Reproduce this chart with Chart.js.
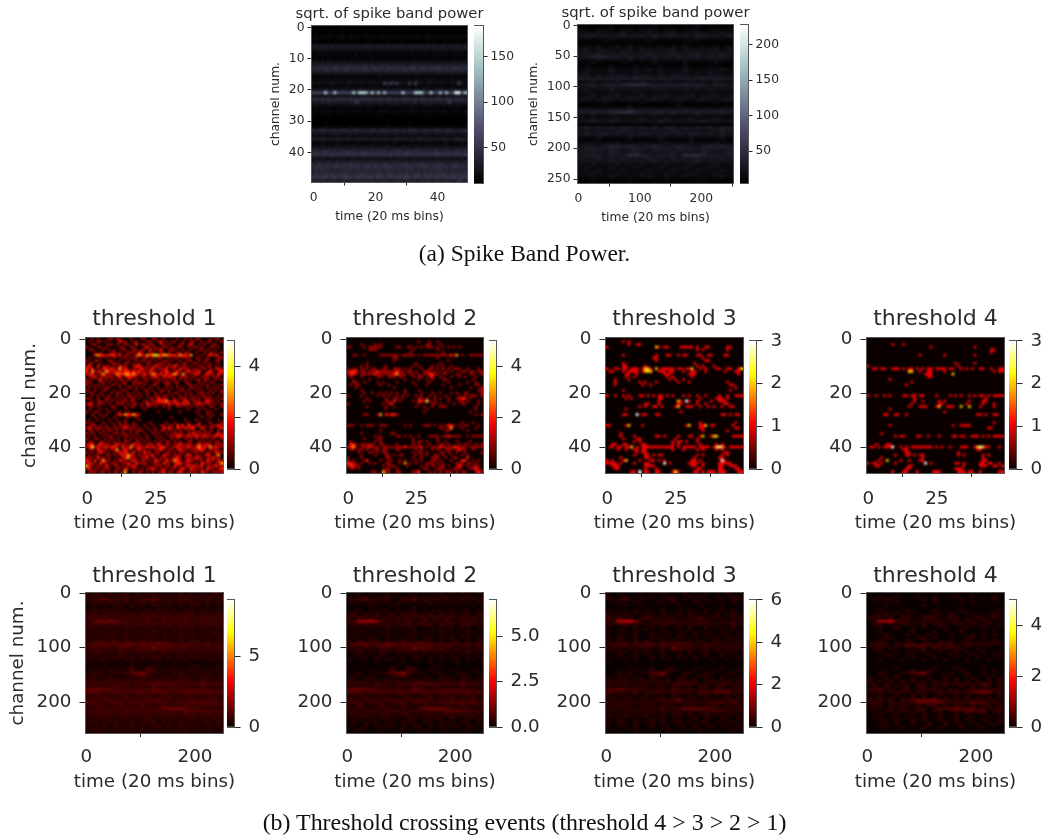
<!DOCTYPE html>
<html>
<head>
<meta charset="utf-8">
<script src="https://cdn.jsdelivr.net/npm/chart.js@4"></script>
<style>
  html, body { margin: 0; background: #fff; }
  #page { position: relative; width: 1042px; height: 837px; overflow: hidden; }
  canvas { position: absolute; filter: blur(0.45px); }
  .caption { position: absolute; left: 6px; width: 1037px; text-align: center; font: 23.5px "Liberation Serif", serif; color: #111; filter: blur(0.3px); white-space: nowrap; }
</style>
</head>
<body>
<div id="page">
  <div class="caption" style="top:240px">(a) Spike Band Power.</div>
  <div class="caption" style="top:809px; font-size:23.9px">(b) Threshold crossing events (threshold 4 &gt; 3 &gt; 2 &gt; 1)</div>
</div>
<script>
// values, one string per row, one char per cell (spaces are only for counting)

// sqrt of spike band power, 50 channels: base36 char x 5
const bandPower50 = [
 "3233323233 3232333233 2332323323 3323233232 3323232332",
 "3333233323 3323332333 3233233332 3233323333 2333233323",
 "2322323223 2232322322 2232232222 3222322322 2322232232",
 "3434344344 4344343443 4344434344 3443434443 4343443434",
 "3333232333 3233323233 3323332323 3233332333 3233323332",
 "2323232322 3232322323 2322323223 2323222323 2232322323",
 "6767767676 7767676776 6776767677 6776776767 6776767767",
 "5565656556 5656565565 5656556565 5565656556 6565565656",
 "3434343433 4343433434 3434343343 4343343434 3434334343",
 "3334343343 3433434343 3343433434 3343434334 3434334343",
 "3323233323 3233323233 3323233233 3232333233 3323233323",
 "4545454454 5454544545 4545445454 5445454544 5454454545",
 "6667676766 7676676767 6676766767 6676767676 6767676676",
 "8998a89a98 9a89989a89 a8989a9899 89a98a9899 a98989a989",
 "7887987887 8978878987 8878978878 9788787887 8978887887",
 "5455454545 5454554545 4554545455 4545545454 5545454545",
 "3333343333 3433334333 3343333333 4333333433 3333343333",
 "4444544444 4454444445 4444454444 4445444454 4444444544",
 "5455455545 4554545455 454b8b8b55 4b5b554554 5454455c54",
 "3343334333 3433343333 4333433343 3334333433 3433343334",
 "5555656555 6556565565 5565556565 5655656555 6565565655",
 "ccccsccscc cccsetts cs cqcqccccc sccctts ccscc qcqcczzcsc q",
 "4544454445 4544544454 4544454544 5445445444 5444544454",
 "898a8989a8 98a9899a98 9898a98989 a9898a9898 a98a989898",
 "6767787767 7677c76677 6776767767 7678676777 6767c76776",
 "4544454454 4544454454 4454454544 4454445454 4454454544",
 "3333333233 3323333333 2333333233 3333323333 3233333332",
 "4434444344 4344443444 3444434444 3444344443 4444344434",
 "3323333233 3332333323 3333233332 3333233333 2333323333",
 "2222232222 2222322222 2322222223 2222222322 2222222222",
 "2222222222 3222222222 2222322222 2222222222 3222222232",
 "2222322222 2222222322 2222222222 2322222222 2232222222",
 "3333433333 3343333334 3333433333 3433333343 3333433333",
 "8789878978 9878987879 8789788978 7898789878 9878978789",
 "5656556565 5565656565 5655656556 5656556565 6556565565",
 "4545444545 4544545445 4454544545 4454545444 5454454545",
 "6667667676 6766676766 7667666766 7666776676 6677668776",
 "3334333343 3333433333 4333334333 3343333433 3334333343",
 "4445444454 4445444454 4444544445 4444544454 4445444454",
 "6766776767 7667677667 6767667776 7667767667 7667667767",
 "8989a88989 8a98989a89 8989898a98 9a89898989 a89898a989",
 "9a99a9b9a9 9a9a99b9a9 a99a9b99a9 b9a99a9a99 b9a9a99a9a",
 "4545445454 5445454544 5454454545 4454545445 4545445454",
 "6767676676 7676767667 6767667676 7667676766 7676676767",
 "88a88988a8 98a98989a8 988a988989 a8989a9889 8a9889a898",
 "8a98998a89 9898a98998 a9899a8989 8a9898a989 a98989a898",
 "7879787878 7987887978 7887978787 8797878787 8978787878",
 "8a8898a898 a88989a889 8a989a8898 a889a898a8 98a8898a89",
 "a9bac9ab9a bca9ab9aba 9ca9ab9aba ca9ba9ab9a b9ab9ca9ba",
 "7878777877 8777878778 7778777877 7877787877 8778777a87"
];

// threshold crossings, 50 channels: count per cell
const crossT1 = [
 "0010100011 0110001000 1100110010 0001001010 1100010110",
 "0100110100 0021100110 0011001201 0110010011 0010110001",
 "0011000011 0100110020 1101100110 1000110120 0101001100",
 "1000110100 0011001100 0120110011 0101100101 1010011010",
 "0110001010 1001100110 1102011200 1110010010 0110100100",
 "0001010001 1010011102 1001100110 1001101100 1001011001",
 "0002322122 2120110023 2132343233 2221322130 0010121210",
 "0100010100 1001101110 0110101100 1011011100 1100100011",
 "1001100011 0010010010 1101010011 0100100110 0101100110",
 "0110010001 1100110101 0011001110 1001011001 1001010010",
 "1200201110 1021100122 1010121101 1121011010 0110110100",
 "2120102212 1131210111 2111201112 0110211101 1011010121",
 "2031120321 2121221212 1102110112 1012101211 1200121012",
 "1220113111 1322332321 1211321212 1232031011 2101211021",
 "0112011111 0120122110 1101121021 2110111101 0011101110",
 "1010120101 1011011010 0110101101 0110101010 1101100101",
 "1100011010 0101100111 1010011011 1011001100 0101011000",
 "1010101001 1010100101 0100110001 1001000110 1010100101",
 "0101010110 0010011010 1001001001 0101010011 0100101010",
 "1001001100 1001100010 0110100110 1000110100 1010010101",
 "0110010001 0110010101 0010010100 1011001010 0110101001",
 "0010101010 0101011010 1010011011 0100101010 1011010010",
 "1100100110 1010101101 0001102111 0010111011 0101110101",
 "0010110101 0101101100 0110112223 1121012101 1101211010",
 "1210111010 0111010110 1021111111 2112121201 1211110101",
 "0110100001 1000101100 1011010010 1001101010 1010011001",
 "0100010100 1000100000 0100000000 1000000100 0101000100",
 "1001100010 0010010000 0000001000 0000100000 1000110000",
 "0010010100 0121322321 0000000000 0000000000 0100101001",
 "0001001000 1000010010 0000000000 0100000000 0010010000",
 "0100100010 0100100001 0000000000 0000001000 1000100010",
 "1010001001 0010100100 0001000001 0010000100 0100010001",
 "0111010100 1011110110 0100100110 1102120211 1201011121",
 "1201110110 1101211101 0010010021 2102112122 0021011012",
 "0110101011 0101001011 1001010110 1010100101 0101010010",
 "1010010100 1101101010 0100101001 0111110112 1111110121",
 "0101001011 0010110101 0010010100 1112211211 2112111212",
 "1001100101 0100101010 1010001010 0101001010 1010101001",
 "0110011010 1010110011 0101010101 1010100110 0101010110",
 "1220121110 1211101211 1011102101 1011211110 1211210111",
 "1241211212 2102113112 1121211221 0112111211 2312131211",
 "0110211101 1301211012 1101011210 1101211011 1221011110",
 "1010121010 1121210201 0211011001 1010110101 1010110211",
 "0101100110 1012132101 1111201021 1011101210 1101210130",
 "1110211010 0101231110 1120110111 0112101111 2110112110",
 "2102013110 1021101210 1101021102 1132101211 0110211021",
 "1211021101 1101121021 1110111021 1012211110 1021110113",
 "3110110210 1101011210 0101011101 1021101212 1120111211",
 "1201101110 0110210110 1011210111 0110121021 1110211012",
 "0111011010 1101300101 1010101120 1101210111 1021101111"
];

const crossT2 = [
 "",
 "0000000000 0000000000 0000001000 1001000000",
 "0000010000 1010000000 0000000001 1000100000",
 "1100001011 1110000011 0011010101 1101010101 0100000000",
 "0000000011 1000000000 0000100000 0001000000",
 "0000000000 0000000000 0001000000 0000010000",
 "0011001000 0011111110 1111101011 1111111121 3010011111",
 "0000000000 0000000110 0000000000 0001000000",
 "0000000000 0000000100 0000000000 0000000100",
 "0000000100 0000000000 0000010000 0000100000",
 "0000010100 0000100000 0000101000 0101010010",
 "1011010101 1001100111 0101000100 1101010101 1100100010",
 "1222011011 1211111121 1011010011 1010101010 0011011011",
 "1221011111 2111111231 1101101011 2211011000 1100011001",
 "0100010000 0110011101 1000101100 1200100010 0101000100",
 "0010000010 0000000000 0100001001 0100011000 0000001000",
 "0011001000 0101000010 0000100000 1000000100 0000100100",
 "0101100000 0010010000 0000010001 0000010000 0100000110",
 "0001000000 0000000100 0000000000 0000000010 0000010001",
 "0000010000 0000000000 0100001000 0000000000 0000000011",
 "0000001001 0010101010 0100000100 0100100010 1001100001",
 "1000010000 0101010010 1010010100 1010001000 0101011101",
 "0000000100 0000100110 1000001101 0010100100 1122010000",
 "0000001010 0000110201 0000102214 1010000100 0110100010",
 "1000000000 0001012000 0000001000 0110100001 0011000010",
 "0000000100 0000100100 0000010010 0100111000 0000000100",
 "0000000000 0000100000 0000000001 0000000000 0000000100",
 "0000000000 0000000000 0000000010 0000000000 0000010000",
 "0000001100 0130212210 0000000000 0000000000 0000000101",
 "",
 "",
 "0000000000 0000000000 0000000000 0000000000 0010001000",
 "1110010111 0011100000 0101000011 1010101221 0101100010",
 "0000000000 0000000000 0000000000 0000110130 0010000100",
 "0000000000 0010000000 0000000000 0000001100 0000100000",
 "0000010000 0000001100",
 "0000000000 1010000011 0101001000 1111011211 1100101111",
 "0000001000 0110000000 0000100000 0001000000",
 "0100000000 1010000000 0000101101 0001001000 1000010000",
 "0221011111 0011000010 0000101000 1000110100 0101100101",
 "1231011121 1101111111 1211111201 0111211112 2111011111",
 "0110110100 1101100011 0000010100 0101001110 1211001000",
 "0000100011 0101100000 0000101101 0000110100 1001000001",
 "0000010000 1000110101 1000010101 0011010010 0010100000",
 "1000010000 0000110000 0000100100 0111001001 1000200000",
 "1010001200 0010011001 0100010100 0110100010 0022001010",
 "2211010010 1000110001 0301010001 1101010000 1110110100",
 "1221100000 0001011100 0010000101 0110110100 1210101110",
 "0110100000 0000110010 0000000011 0001110001 1100011210",
 "0000000001 1003110011 0000112000 1010101110 1011000121"
];

const crossT3 = [
 "",
 "0000001010",
 "0000000010 0110",
 "1000000000 0000000021 0110000111 1101001100 0000110000",
 "0000000000 0000000000 0000000000 0001010000 00001",
 "",
 "0000001000 0000000010 0011001011 0001100110 0001100000",
 "0000000000 0000000110 0000000000 0000010000",
 "0000000000 0000000010 0000000000 0000001100",
 "0000001000 0000000000 0000000000 0010",
 "0000001100 0000100000 0000000000 0001010001",
 "1001101101 1101221020 1111101101 1200101000 1100110012",
 "0110001011 1101222001 1101100010 0110001000 0001000110",
 "0000000110 0100000000 0111000000 1110000000 0000000010",
 "0000000100 1000000000 0010100000 0100000000",
 "0001000010 0000000000 0001010010",
 "0001000000 0010100010 0000001000 1000000000 0000100000",
 "0001000000 0001001000 0000000000 0000000000 0000011",
 "0000000000 0000000000 0000000000 0000000000 0000000100",
 "0000001000 0000000000 0000000000 0000000000 00000100",
 "",
 "1001001010 0011010101 1010100010 1001001000 0100100111",
 "0000000101 0000000001 1000000000 0000100000 1110100000",
 "0000000000 0000000001 0000002103 1001000010 0111000000",
 "0000000000 0000110001 0000001100 0001001000 0001100000",
 "0000000000 0010100110 1000012001 1100100101 0010011000",
 "0000000100",
 "0000000000 0000000000 0000000100",
 "0000001100 0301100011 0000000000 0000000000 0011010110",
 "",
 "",
 "0000000000 0000000000 0000000000 0000100000 0000000100",
 "1100000120 0001000000 0000000001 2000112011 0000001000",
 "0000000000 0000000000 0000000000 0000110000 0000000110",
 "0000000000 0000000000 0000000000 0000010000 0000100",
 "0000010000",
 "0000010000 1000000011 0100001000 1100120012 2000001111",
 "0000001000 0110000000 0000010000 0001",
 "0000000000 1010000000 0000101101 0001",
 "0011001100 0001100000 0000101000 0000100000 1010",
 "0110110112 0101111111 1111101011 1110111101 2321011111",
 "0000100100 1101100000 0000100010 0001010000 1010000000",
 "0000000000 0101100000 0000000000 0000000000 0001100000",
 "0000000000 1000110101 1000000000 0001010000 0010100000",
 "0000010000 0000110000 0000000000 0010000000 0110000000",
 "1010001200 0010001101 0100000000 0110100000 0031000000",
 "1111010000 1000110000 0301000000 1111010000 0111110000",
 "0011100000 0000111100 0000000000 0110010000 0110011100",
 "0001100000 0000100010 0000000000 0001100000 0110000110",
 "0000000001 1030110011 0000121000 0011010111 0111000011"
];

const crossT4 = [
 "",
 "",
 "0000000001 0001",
 "0000000000 0000000000 0001000000 0000000001",
 "0000000000 0000000000 0000000000 0000000000 0000011",
 "0000000000 0000000000 0000000000 0000000000 000001",
 "0000000000 0000000001 0000000010 0000000001",
 "",
 "",
 "0000000000 0000000000 0000000000 0010000001",
 "1000000000 0000000000 0000000000 0001",
 "0011011001 1101011010 1011011110 1100101010 0110010011",
 "0000000000 0000022001 0011000010 0000000000 0000001011",
 "0000000000 0000000000 0111000000 0200000000",
 "0000000000 0000000000 0011",
 "0000000010",
 "0000000000 0000001",
 "0000000000 00001",
 "",
 "",
 "",
 "1001001010 0001101101 1000010000 1010100101 0110101111",
 "0000000000 0000000100 0000000000 0000000000 0001",
 "0000000000 0000000100 1000001010 0000000100 0011",
 "0000000000 0000001000 0000001100 0000001000 0010001",
 "0000000000 0000010001 1100012001 1100200200 0100001",
 "0000000010",
 "0000000000 0000000000 0000000010",
 "0000001100 1100100000 0000000000 0000000000 1101001100",
 "",
 "",
 "0000000000 0000000000 0000000000 0000000000 0000001",
 "0000000010 0000000000 0000000000 0100111100",
 "0000000000 0000000000 0000000000 0000000000 0000110",
 "",
 "0000010000",
 "0000000000 1011000011 0010001000 0110110011 1010101111",
 "",
 "",
 "0001000110",
 "0110101113 0010101111 1111010100 1000111001 2321100010",
 "0000000000 0001100000 0000000000 0000000000 1100",
 "0000000000 0000110000 0000000000 0001000000",
 "0000000000 1000110101 1000000000 0001010000 0010100",
 "0000010000 0000000000 1000000000 0000000000 0010",
 "0000100200 0010010001 1000000000 0000000000 0011",
 "1011010000 1000000000 0301000000 0011010000 0110110010",
 "0001100000 0000011000 0000000000 0000010000 0111001101",
 "0000000000 0000110000 0000000000 0011100000",
 "0000000001 0001100010 0000111000 0001110110 0100000011"
];

// 256 channels, read in blocks of 5 channels x 10 bins
// sqrt of spike band power: digit x 8
const bandPower256 = [
 "11111211111121111112111111","22122212212221221222122122","22232223222322232223222322",
 "34434344344343443434434344","22222322222232222223222222","11112111111211111121111112",
 "11111111211111111211111111","23232232323223232322323232","33233323323332332333233233",
 "33343334333433343334333433","34555443434343434344343433","22232222322232222322223222",
 "11211112111121111211112111","12111211121112111211121112","22222322222322222322222322",
 "23222322232223222322232223","33232333233323233323233323","44444444454444444444544444",
 "22322232223222322232223222","34434445666544444544434434","33333433333343333334333333",
 "23222322232223222322232223","22322232223222322232223222","23323332333233323332333233",
 "33233323332333233323332333","11112111112111112111112111","11111111211111112111111121",
 "33333333433333333433333333","44544566754445454445444544","22222322222232222223222222",
 "22322232223222322232223222","33433433333334333333433333","11111111111111111111111111",
 "34343434434343443434343443","33333334333333343333333433","34344343434433434344343433",
 "22232222322223222232222322","11121111211112111121111211","22322232223222322232223222",
 "34334554543454345433454544","34443443444344434443444344","33433433343333343333433343",
 "34443443665434443666544344","33343334333433343334333433","33333433333343333334333333",
 "22322232223222322232223222","23222322232223222322232223","22232223222322232223222322",
 "22322232223222322232223222","22222322222322222322222322","11211111211111211111211111",
 "11111211111121111112111111"
];

// threshold crossings: digit x 0.25
const cross256T1 = [
 "12212122121221212212121221","21221212212122121221212212","13343233123343212332132123",
 "21212212122121221212212121","12121221212122121212212121","01010110101011010101101010",
 "12212122121212212122121212","22122212212221221222122122","23232322323233232323223232",
 "32323223232322323232232323","23556532222322322232223222","23332333233323332333233323",
 "22122212212221221222122122","12212122121221212212121221","21221212212122121221212212",
 "12212122121221212212121221","22122212212221221222122122","21212212122121221212212121",
 "23443434434435432323323232","34343344434343343343233232","22222233233354433322322232",
 "22322232223222322232223222","12212122121221212212121221","12121221212122121212212121",
 "21221212212122121221212212","11011010110101101011010110","01010110101011010101101010",
 "11121111311321112111211121","11112111311331121112111211","12211223456322112211221121",
 "12212111234211211221122112","22122212212221221222122122","22222222232223222322232223",
 "33332333233344443333343333","22222322222232223222232222","45544333333344333333333323",
 "44333433343343433444444343","22322232223222322232223222","22232223222322232223222322",
 "33233323333334332333233323","33323332333233323334443433","22322232223222322232232223",
 "22322233223223555543323222","33233323332333233344443333","22322232223222322232223222",
 "22232223222322232223222322","12212122121221212212121221","22122212212221221222122122",
 "12121221212122121212212121","21221212212122121221212212","11211121112111211121112111",
 "12111211121112111211121112"
];
const cross256T2 = [
 "01101011010110101101011010","10110101101011010110101101","12232122012231212121021112",
 "10101101011010110101101010","01011010110101011010110101","00000100000010000001000000",
 "01101011010110101101011010","11011101101110110111011011","12121211212122121212112121",
 "21212112121211212121121212","12667521111211211121112111","12221222122212221222122212",
 "11011101101110110111011011","01101011010110101101011010","10110101101011010110101101",
 "01101011010110101101011010","11011101101110110111011011","10101101011010110101101010",
 "12332323323324321212212121","23232233323232232232122121","11111122122243322211211121",
 "11211121112111211121112111","01101011010110101101011010","01010110101011010101101010",
 "10110101101011010110101101","00000100001000010000100001","00000000010000000100000000",
 "00010000200210001000100010","00001000200220010001000100","01100112345211001100110010",
 "01101000123100100110011001","11011101101110110111011011","11111111121112111211121112",
 "22221222122233332222232222","11111211111121112111121111","34433222222233222222222212",
 "33222322232232322333333232","11211121112111211121112111","11121112111211121112111211",
 "22122212222223221222122212","22212221222122212223332322","11211121112111211121121112",
 "11211122112112444432212111","22122212221222122233332222","11211121112111211121112111",
 "11121112111211121112111211","01101011010110101101011010","11011101101110110111011011",
 "01010110101011010101101010","10110101101011010110101101","00100010001000100010001000",
 "01000100010001000100010001"
];
const cross256T3 = [
 "00100010001000100010001000","10010100100100010100100101","11121011001120101010010111",
 "00100100010010001001000100","00010010001001000100010000","00000000000000000000000000",
 "00100101001001010010010100","10010100101001010010100101","11111011101111011101101110",
 "21211012111110111210110111","11667410111111111111011101","11121111111211111211111211",
 "10010100101001010010100101","00100101001001010010010100","10010100100100101001001010",
 "00100100101001001010010010","10110100110101101001101101","10100101001010010100101010",
 "11221212212213211111111111","12121122212121121121111111","11101111011132211111111111",
 "10110101101011010110101101","00100101001001010010010100","00100100101001001010010010",
 "10010100100100101001001010","00000000000000000000000000","00000000000000000000000000",
 "00001000100110000100010001","00000100100110001000100010","00111011234100110011001100",
 "00101000112000100110010001","10110110110101101011010110","11111011111101111011111011",
 "11111111111122221111121111","10110111011011010110110110","22322111111122111111211112",
 "22111211121121211222333121","10110101101011010110101101","11011011011011011011011011",
 "11111111112223111111111211","11111111111111111112221211","11111011101110111011101110",
 "11111111112112333322111111","11011111111111111122221111","10110101101011010110101101",
 "11011011011011011011011011","00100100101001001010010010","10110101101011010110101101",
 "00100100101001001010010010","10010100100100101001001010","00000100000100000100000100",
 "00000000010000000100000000"
];
const cross256T4 = [
 "00000000000000000000000000","00100100010010001001000100","01011000001010000100010101",
 "00000100000010000001000000","00010000001000000100000000","00000000000000000000000000",
 "00100001000010000100000010","00010100100001010010000101","01111011001111011001101110",
 "11101011101110111010110101","01455211011111011011011001","01101011101011101101101011",
 "00100100001001000010010000","00000100100000100100000100","00100000100010000100010000",
 "00010001000100010001000100","00011000011010000011010000","00100001001000010010000100",
 "01110101101102110111111111","11110112222121121011011000","01101001011011111100100000",
 "00100100101001001010010010","00010001000100010001000100","00001000100010001000100010",
 "00100010001000100010001000","00000000000000000000000000","00000000000000000000000000",
 "00000100000010001000010000","00000000100100000100000100","00110011223100010010010001",
 "00100100011000100010000100","10010100100100101001001010","10101010101010101010101010",
 "11011011011011111111121011","01010101011010100101011010","11211011011111011011111111",
 "11101111011011111112333110","00100100101001001010010010","10101010101010101010101010",
 "11111011233332111111111101","11101111122222111112221111","01101011010110101101011010",
 "10101110111012223222111111","01011011011011011122220111","00100100101001001010010010",
 "01001001001001001001001001","00100100101001001010010010","00010100100100101001001010",
 "00100100100100100100100100","00010010001001000100010000","00000000000000000000000000",
 "00000000000000000000000000"
];

// tick values
const ticks50 = [0, 25];
const ticks256 = [0, 200];
const chTicks50 = [0, 20, 40];
const chTicks256 = [0, 100, 200];
const powerX50 = [0, 20, 40];
const powerY50 = [0, 10, 20, 30, 40];
const powerX256 = [0, 100, 200];
const powerY256 = [0, 50, 100, 150, 200, 250];

const boneStops = [[0,0,0,0],[0.365,0.319,0.319,0.444],[0.746,0.652,0.777,0.777],[1,1,1,1]];
const hotStops = [[0,0.0416,0,0],[0.365,1,0,0],[0.746,1,1,0],[1,1,1,1]];

function cmapColor(stops, t) {
    t = Math.min(1, Math.max(0, t));
    let i = 0;
    while (i < stops.length - 2 && t > stops[i + 1][0]) i++;
    const a = stops[i], b = stops[i + 1], f = (t - a[0]) / (b[0] - a[0]);
    const ch = k => Math.round(255 * (a[k] + (b[k] - a[k]) * f));
    return `rgb(${ch(1)},${ch(2)},${ch(3)})`;
}

function rowsToCells(rows, unit, xStep, yStep) {
    const cells = [];
    rows.forEach((row, r) => {
        const chars = row.replace(/ /g, '').split('');
        chars.forEach((c, k) => {
            cells.push({
                x: k * xStep + (xStep - 1) / 2,
                y: [r * yStep - 0.5, (r + 1) * yStep - 0.5],
                v: parseInt(c, 36) * unit
            });
        });
        // short rows are zeros to the end
        for (let k = chars.length; k < 50 && xStep === 1; k++) {
            cells.push({ x: k, y: [r - 0.5, r + 0.5], v: 0 });
        }
    });
    return cells;
}

// draws the frame around an axes, matplotlib style
const framePlugin = {
    id: 'frame',
    afterDatasetsDraw(chart) {
        const a = chart.chartArea, c = chart.ctx;
        c.save();
        c.strokeStyle = '#555';
        c.lineWidth = 1;
        c.strokeRect(a.left - 0.5, a.top - 0.5, a.right - a.left + 1, a.bottom - a.top + 1);
        c.restore();
    }
};

// the image in the reference is resampled, soften the cells the same way
const softenPlugin = {
    id: 'soften',
    afterDatasetsDraw(chart) {
        const a = chart.chartArea, c = chart.ctx;
        const w = a.right - a.left, h = a.bottom - a.top;
        c.save();
        c.beginPath();
        c.rect(a.left, a.top, w, h);
        c.clip();
        c.filter = 'blur(0.8px)';
        c.drawImage(chart.canvas, a.left, a.top, w, h, a.left, a.top, w, h);
        c.restore();
    }
};

const page = document.getElementById('page');

function addCanvas(left, top, width, height) {
    const cv = document.createElement('canvas');
    cv.width = width;
    cv.height = height;
    cv.style.left = left + 'px';
    cv.style.top = top + 'px';
    cv.style.width = width + 'px';
    cv.style.height = height + 'px';
    page.appendChild(cv);
    return cv;
}

const INK = '#2b2b2b';
const SIDE = 80;  // same margin both sides so title and x label centre on the axes

function drawHeatmap(p) {
    const [bl, bt, br, bb] = p.box;
    const s = p.style;
    const cv = addCanvas(bl - SIDE, bt - s.titleH, SIDE * 2 + (br - bl), s.titleH + (bb - bt) + s.bottomM);
    const lh = s.titleSize * 1.2;
    const labelH = s.tickSize * 1.2;
    const colors = p.cells.map(d => cmapColor(p.stops, (d.v - p.vmin) / (p.vmax - p.vmin)));
    const textFont = { family: 'DejaVu Sans', size: s.tickSize, weight: 'normal' };

    new Chart(cv, {
        type: 'bar',
        data: {
            datasets: [{
                data: p.cells,
                backgroundColor: colors,
                barPercentage: 1,
                categoryPercentage: 1,
                borderWidth: 0
            }]
        },
        plugins: [softenPlugin, framePlugin],
        options: {
            responsive: false,
            animation: false,
            events: [],
            layout: { autoPadding: false },
            plugins: {
                legend: { display: false },
                tooltip: { enabled: false },
                title: {
                    display: true,
                    text: p.title,
                    color: INK,
                    font: { family: 'DejaVu Sans', size: s.titleSize, weight: 'normal' },
                    padding: { top: 0, bottom: s.titleH - lh }
                },
                // axis titles get squeezed to the axis width, the subtitle block does not
                subtitle: {
                    display: true,
                    position: 'bottom',
                    text: 'time (20 ms bins)',
                    color: INK,
                    font: textFont,
                    padding: 0
                }
            },
            scales: {
                x: {
                    type: 'linear',
                    min: -0.5,
                    max: p.xMax,
                    offset: false,
                    grid: { display: true, drawOnChartArea: false, drawTicks: true, tickLength: s.xTick, tickColor: INK },
                    border: { color: '#555' },
                    afterBuildTicks: ax => { ax.ticks = p.xTicks.map(v => ({ value: v })); },
                    afterFit: ax => { ax.height = s.bottomM - labelH; },
                    ticks: {
                        autoSkip: false, maxRotation: 0, minRotation: 0,
                        padding: s.xPad, color: INK,
                        font: textFont,
                        callback: v => String(v)
                    }
                },
                y: {
                    type: 'linear',
                    reverse: true,
                    min: -0.5,
                    max: p.yMax,
                    grid: { display: true, drawOnChartArea: false, drawTicks: true, tickLength: s.yTick, tickColor: INK },
                    border: { color: '#555' },
                    afterBuildTicks: ax => { ax.ticks = p.yTicks.map(v => ({ value: v })); },
                    afterFit: ax => { ax.width = SIDE; },
                    ticks: {
                        autoSkip: false,
                        padding: s.yPad, color: INK,
                        font: textFont,
                        callback: v => String(v)
                    },
                    title: {
                        display: p.yTitleX !== undefined,
                        text: 'channel num.',
                        color: INK,
                        padding: { top: p.yTitleX !== undefined ? p.yTitleX - (bl - SIDE) : 0, bottom: 0 },
                        font: textFont
                    }
                },
                // empty axis, only keeps the plot centred in the canvas
                spacer: {
                    type: 'linear',
                    position: 'right',
                    grid: { display: false },
                    border: { display: false },
                    ticks: { display: false },
                    afterFit: ax => { ax.width = SIDE; }
                }
            }
        }
    });

    drawColorbar(p);
}

function drawColorbar(p) {
    const [bl, bt, br, bb] = p.bar;
    const s = p.style;
    const pad = 14, axisW = 48;
    const cv = addCanvas(bl, bt - pad, br - bl + axisW, bb - bt + 2 * pad);
    new Chart(cv, {
        type: 'bar',
        data: {
            labels: [''],
            datasets: [{
                data: [[p.vmin, p.vmax]],
                barPercentage: 1,
                categoryPercentage: 1,
                borderWidth: 0,
                backgroundColor: c => {
                    const a = c.chart.chartArea;
                    if (!a) return '#000';
                    const g = c.chart.ctx.createLinearGradient(0, a.bottom, 0, a.top);
                    for (let i = 0; i <= 24; i++) g.addColorStop(i / 24, cmapColor(p.stops, i / 24));
                    return g;
                }
            }]
        },
        plugins: [framePlugin],
        options: {
            responsive: false,
            animation: false,
            events: [],
            layout: { autoPadding: false, padding: { top: pad, bottom: pad } },
            plugins: { legend: { display: false }, tooltip: { enabled: false } },
            scales: {
                x: { display: false },
                y: {
                    position: 'right',
                    min: p.vmin,
                    max: p.vmax,
                    grid: { display: true, drawOnChartArea: false, drawTicks: true, tickLength: s.yTick, tickColor: INK },
                    border: { display: false },
                    afterBuildTicks: ax => { ax.ticks = p.barTicks.map(v => ({ value: v })); },
                    afterFit: ax => { ax.width = axisW; },
                    ticks: {
                        autoSkip: false,
                        padding: s.yPad, color: INK,
                        font: { family: 'DejaVu Sans', size: s.tickSize },
                        callback: v => (p.barDigits ? v.toFixed(p.barDigits) : String(v))
                    }
                }
            }
        }
    });
}

const smallStyle = { titleSize: 14.8, tickSize: 12.3, titleH: 21, bottomM: 42, xTick: 3.5, yTick: 4.5, xPad: 5, yPad: 3 };
const bigRow1 = { titleSize: 22, tickSize: 18.3, titleH: 32, bottomM: 61, xTick: 4, yTick: 6.5, xPad: 11, yPad: 8 };
const bigRow2 = { titleSize: 22, tickSize: 18.3, titleH: 30, bottomM: 60, xTick: 4, yTick: 6.5, xPad: 9, yPad: 8 };

const RED = hotStops, GREY = boneStops;
const xCols = [86, 347, 606, 867];
const widths = [137, 136, 137, 137];
const barCols = [227, 489, 749, 1009];

[
    { title: 'sqrt. of spike band power', cells: rowsToCells(bandPower50, 5, 1, 1), stops: GREY, vmin: 11, vmax: 184,
      box: [312, 26, 467, 182], bar: [474, 26, 483, 183], xTicks: powerX50, yTicks: powerY50, barTicks: [50, 100, 150],
      xMax: 49.5, yMax: 49.5, style: smallStyle, yTitleX: 268 },
    { title: 'sqrt. of spike band power', cells: rowsToCells(bandPower256, 8, 10, 5), stops: GREY, vmin: 5, vmax: 228,
      box: [578, 25, 733, 183], bar: [740, 25, 748, 183], xTicks: powerX256, yTicks: powerY256, barTicks: [50, 100, 150, 200],
      xMax: 251.5, yMax: 256.5, style: smallStyle, yTitleX: 526 },
    ...[crossT1, crossT2, crossT3, crossT4].map((rows, i) => ({
        title: 'threshold ' + (i + 1), cells: rowsToCells(rows, 1, 1, 1), stops: RED, vmin: 0, vmax: [5, 5, 3, 3][i],
        box: [xCols[i], 338, xCols[i] + widths[i], 473], bar: [barCols[i], 336, barCols[i] + 7, 474],
        xTicks: ticks50, yTicks: chTicks50, barTicks: [[0, 2, 4], [0, 2, 4], [0, 1, 2, 3], [0, 1, 2, 3]][i],
        xMax: 49.5, yMax: 49.5, style: bigRow1, yTitleX: i === 0 ? 19 : undefined
    })),
    ...[cross256T1, cross256T2, cross256T3, cross256T4].map((rows, i) => ({
        title: 'threshold ' + (i + 1), cells: rowsToCells(rows, 0.25, 10, 5), stops: RED, vmin: 0, vmax: [9, 7, 6, 5][i],
        box: [xCols[i], 593, xCols[i] + widths[i], 733], bar: [barCols[i], 595, barCols[i] + 7, 732],
        xTicks: ticks256, yTicks: chTicks256, barTicks: [[0, 5], [0, 2.5, 5], [0, 2, 4, 6], [0, 2, 4]][i],
        barDigits: i === 1 ? 1 : 0,
        xMax: 251.5, yMax: 256.5, style: bigRow2, yTitleX: i === 0 ? 7 : undefined
    }))
].forEach(drawHeatmap);
</script>
</body>
</html>
